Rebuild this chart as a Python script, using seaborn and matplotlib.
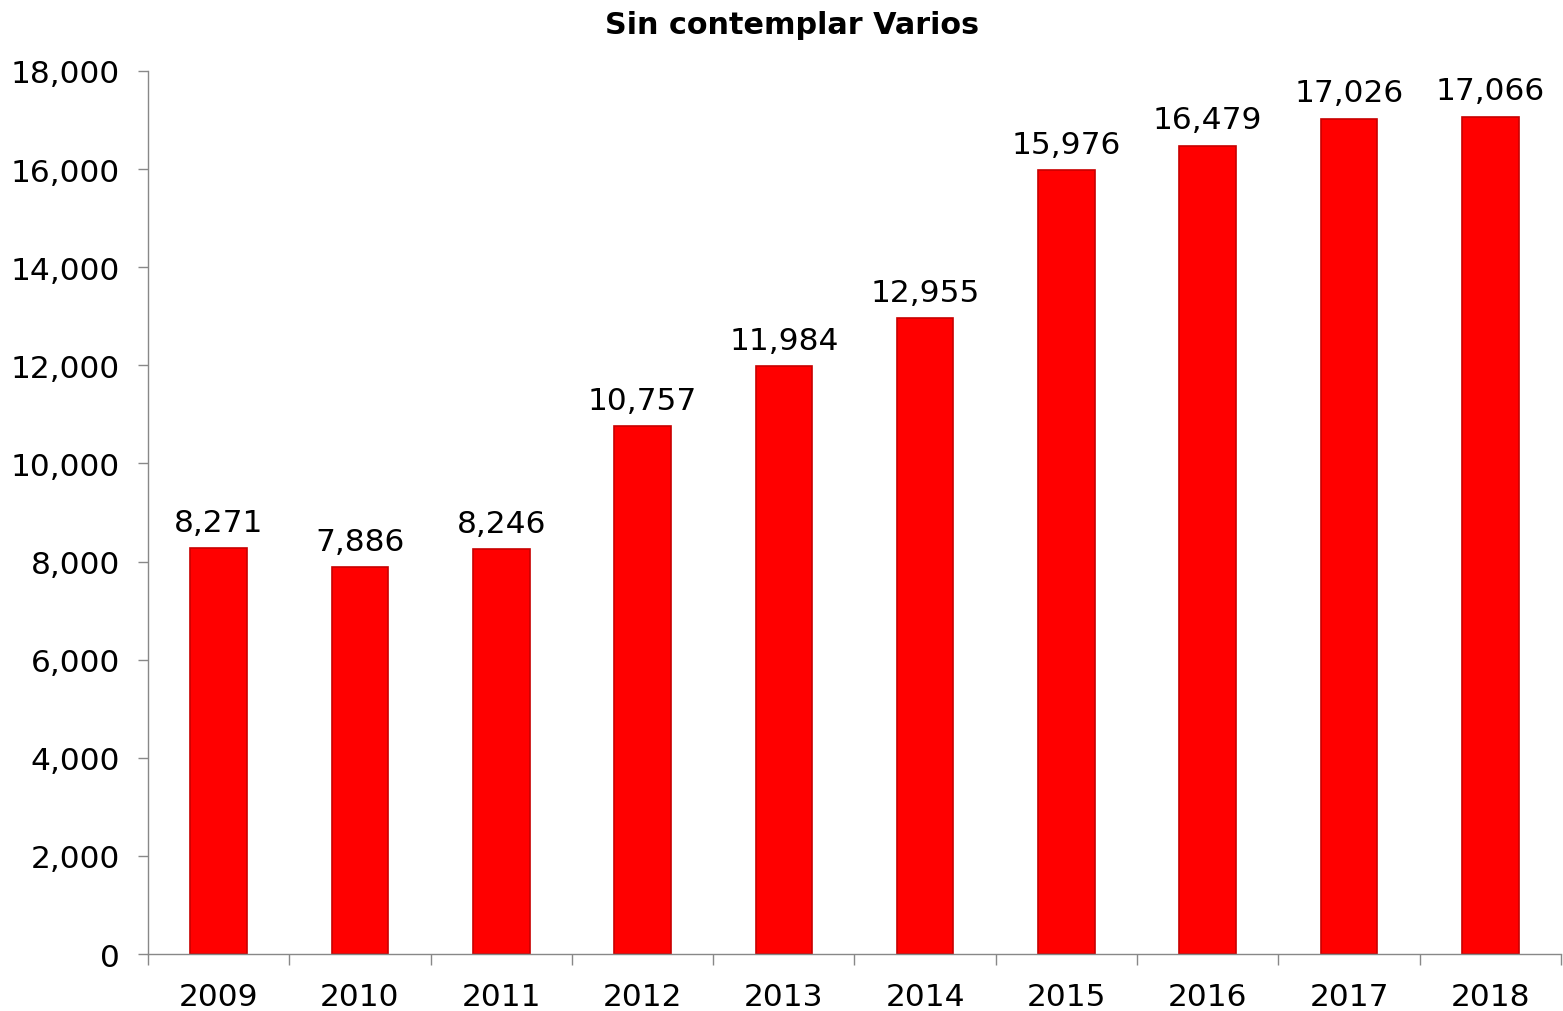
import matplotlib
matplotlib.use("Agg")
import matplotlib.pyplot as plt
import seaborn as sns
import pandas as pd
import numpy as np
from matplotlib.ticker import FuncFormatter, FixedLocator

years = ["2009", "2010", "2011", "2012", "2013", "2014", "2015", "2016", "2017", "2018"]
values = [8271, 7886, 8246, 10757, 11984, 12955, 15976, 16479, 17026, 17066]
title = "Sin contemplar Varios"

sns.set_theme(style="white")
plt.rcParams['font.family'] = ['DejaVu Sans']

df = pd.DataFrame({"year": years, "value": values})

fig = plt.figure(figsize=(15.63, 10.12), dpi=100)
ax = fig.add_axes([0.0947, 0.0563, 0.9040, 0.8726])

sns.barplot(data=df, x="year", y="value", color="#FF0000", width=0.4,
            saturation=1, edgecolor="#C80000", linewidth=1.2, ax=ax)

for i, v in enumerate(values):
    ax.text(i, v + 230, f"{v:,}", ha="center", va="bottom", fontsize=22.5, color="black")

ax.set_ylim(0, 18000)
ax.set_xlim(-0.5, len(years) - 0.5)
ax.set_yticks(np.arange(0, 18001, 2000))
ax.yaxis.set_major_formatter(FuncFormatter(lambda x, p: f"{int(x):,}"))
ax.set_xlabel("")
ax.set_ylabel("")

for s in ["top", "right"]:
    ax.spines[s].set_visible(False)
for s in ["left", "bottom"]:
    ax.spines[s].set_color("#888888")
    ax.spines[s].set_linewidth(1.0)

ax.tick_params(axis="y", which="major", direction="out", length=7, width=1,
               color="#888888", labelsize=22.5, labelcolor="black", pad=13, left=True)
ax.tick_params(axis="x", which="major", length=0, labelsize=22.5, labelcolor="black", pad=20)
ax.xaxis.set_minor_locator(FixedLocator(np.arange(-0.5, len(years), 1.0)))
ax.tick_params(axis="x", which="minor", direction="out", length=8, width=1,
               color="#888888", bottom=True)

fig.text(0.507, 0.975, title, ha="center", va="center", fontsize=21.8, fontweight="bold",
         color="black")

fig.savefig("out.png", dpi=100)
